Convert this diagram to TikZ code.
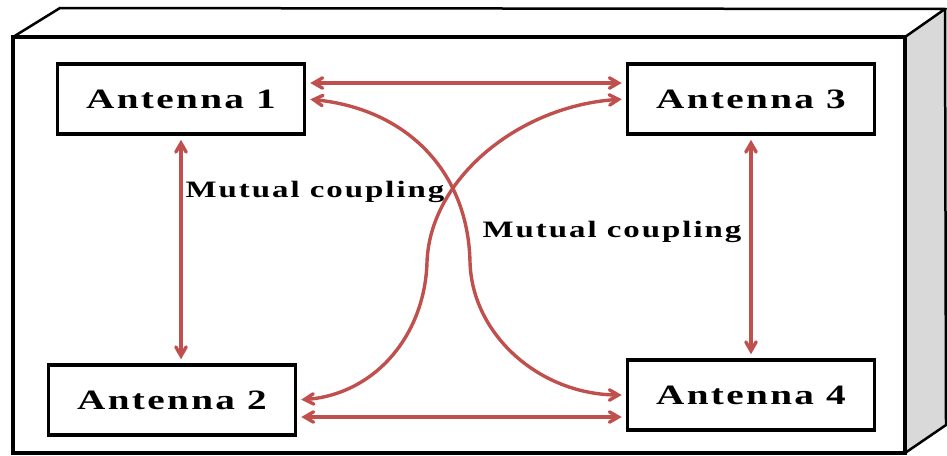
\documentclass[tikz,border=0pt]{standalone}
\usepackage{fontspec}
\setmainfont{Liberation Serif}
\usetikzlibrary{arrows}
\definecolor{coupred}{HTML}{C0504D}
\newcommand{\widetext}[1]{\scalebox{1.4}[1]{\addfontfeatures{LetterSpace=6}#1}}

\begin{document}
\begin{tikzpicture}[x=1pt, y=-1pt]

\tikzset{antenna/.style = {shape=rectangle, draw, line width=3.5pt, minimum width=247pt, minimum height=70pt, font=\fontsize{28}{31}\selectfont\bfseries}}
\tikzset{link/.style = {<->, > = angle 60, coupred, line width=3.4pt, shorten <=4pt, shorten >=4pt}}
\tikzset{coupling/.style = {font=\fontsize{23.5}{27}\selectfont\bfseries}}

\useasboundingbox (0,0) rectangle (947,455);
% box
\fill[gray!30] (905,37) -- (945,9) -- (946,425) -- (905,453) -- cycle;
\draw[line width=2.5pt] (13,37) -- (60,8) -- (945,9) -- (905,37);
\draw[line width=2.5pt] (945,9) -- (946,425) -- (905,453);
\draw[line width=4pt] (13,453) -- (13,37) -- (905,37) -- (905,453) -- cycle;
% antennas
\node[antenna] (a1) at (181,99)  {\widetext{Antenna 1}};
\node[antenna] (a3) at (751,99)  {\widetext{Antenna 3}};
\node[antenna] (a2) at (172,400) {\widetext{Antenna 2}};
\node[antenna] (a4) at (751,395) {\widetext{Antenna 4}};
% couplings
\draw[link] ([yshift=16pt]a1.east) -- ([yshift=16pt]a1.east -| a3.west);
\draw[link] ([yshift=-17pt]a2.east) -- ([yshift=-17pt]a2.east -| a4.west);
\draw[link] (a1.south) -- (a1.south |- a2.north);
\draw[link] (a3.south) -- (a3.south |- a4.north);
\draw[link] (a1.east) .. controls (405,108) and (468,170) .. (470,262) .. controls (472,335) and (540,395) .. (a4.west);
\draw[link] (a2.east) .. controls (375,395) and (425,335) .. (427,262) .. controls (430,178) and (520,105) .. (a3.west);
% labels
\node[coupling] (m1) at (315,192) {\widetext{Mutual coupling}};
\node[coupling] (m2) at (612,232) {\widetext{Mutual coupling}};
\end{tikzpicture}
\end{document}
